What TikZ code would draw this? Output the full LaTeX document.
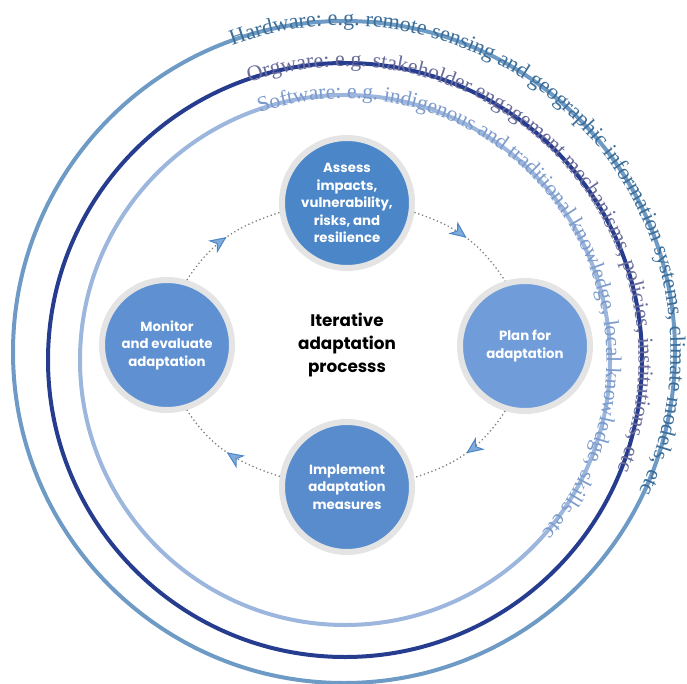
\documentclass[tikz,border=0pt]{standalone}
\usepackage{fontspec}
\setmainfont{Liberation Serif}
\newfontfamily\arcfont{Liberation Serif}
\newfontfamily\popfont{Poppins}
\usetikzlibrary{decorations.text,decorations.markings,arrows.meta}
\definecolor{hwline}{HTML}{6E9BC5}
\definecolor{orgline}{HTML}{263C8E}
\definecolor{swline}{HTML}{9CB6DD}
\definecolor{hwtext}{HTML}{3D6E98}
\definecolor{orgtext}{HTML}{6A6C9C}
\definecolor{swtext}{HTML}{7C9BCB}
\definecolor{ringgrey}{HTML}{E4E4E4}
\definecolor{dotgrey}{HTML}{808080}
\definecolor{arrowblue}{HTML}{4A86C8}
\definecolor{fillA}{HTML}{4B87C8}
\definecolor{fillP}{HTML}{709DD9}
\definecolor{fillI}{HTML}{588CCD}
\definecolor{fillM}{HTML}{5F91D2}
\tikzset{
  stage/.style={circle, draw=ringgrey, line width=6pt, minimum size=130pt,
    inner sep=0pt, text=white, align=center,
    font=\popfont\bfseries\fontsize{13.3}{17.5}\selectfont},
  ringline/.style={line width=4pt},
  cyclearc/.style={dotgrey, line width=1.3pt, dash pattern=on 1.3pt off 2.7pt,
    postaction={decorate},
    decoration={markings, mark=at position 0.5 with
      {\arrow{Stealth[length=17pt,width=15pt,inset=5pt,line width=1pt,color=arrowblue,fill=arrowblue!70]}}}}
}
\begin{document}
\begin{tikzpicture}[x=1pt,y=1pt]
\useasboundingbox (0,0) rectangle (687,-684);
% rings
\draw[ringline, hwline] (344,-352) circle[radius=331];
\draw[ringline, orgline] (345,-360) circle[radius=297];
\draw[ringline, swline] (345,-360) circle[radius=265];
% ring texts
\path[decorate, decoration={text along path, raise=-4.5pt,
  text={|\arcfont\fontsize{22.2}{24}\selectfont\color{hwtext}|Hardware: e.g. remote sensing and geographic information systems, climate models, etc}}]
  (344,-352) ++(110:331) arc[start angle=110, end angle=-70, radius=331];
\path[decorate, decoration={text along path, raise=-3.5pt,
  text={|\arcfont\fontsize{22}{24}\selectfont\color{orgtext}|Orgware: e.g. stakeholder engagement mechanisms, policies, institutions, etc}}]
  (345,-360) ++(109:297) arc[start angle=109, end angle=-70, radius=297];
\path[decorate, decoration={text along path, raise=-3.5pt,
  text={|\arcfont\fontsize{21.7}{24}\selectfont\color{swtext}|Software: e.g. indigenous and traditional knowledge, local knowledge, skills etc}}]
  (345,-360) ++(109:265) arc[start angle=109, end angle=-80, radius=265];
% stages
\node[stage, fill=fillA] (A) at (347,-203) {Assess\\impacts,\\vulnerability,\\risks, and\\resilience};
\node[stage, fill=fillP] (P) at (525,-346) {Plan for\\adaptation};
\node[stage, fill=fillI] (I) at (347,-487) {Implement\\adaptation\\measures};
\node[stage, fill=fillM] (M) at (167,-345) {Monitor\\and evaluate\\adaptation};
\node[font=\popfont\bfseries\fontsize{16.8}{23}\selectfont, align=center] (T) at (347,-345) {Iterative\\adaptation\\processs};
% cycle
\draw[cyclearc] (A.-8.6) to[out=-17.6, in=123] (P.107);
\draw[cyclearc] (P.-107) to[out=-123, in=17.6] (I.8.6);
\draw[cyclearc] (I.171.4) to[out=162.4, in=-57] (M.-73);
\draw[cyclearc] (M.73) to[out=57, in=197.6] (A.188.6);
\end{tikzpicture}
\end{document}
